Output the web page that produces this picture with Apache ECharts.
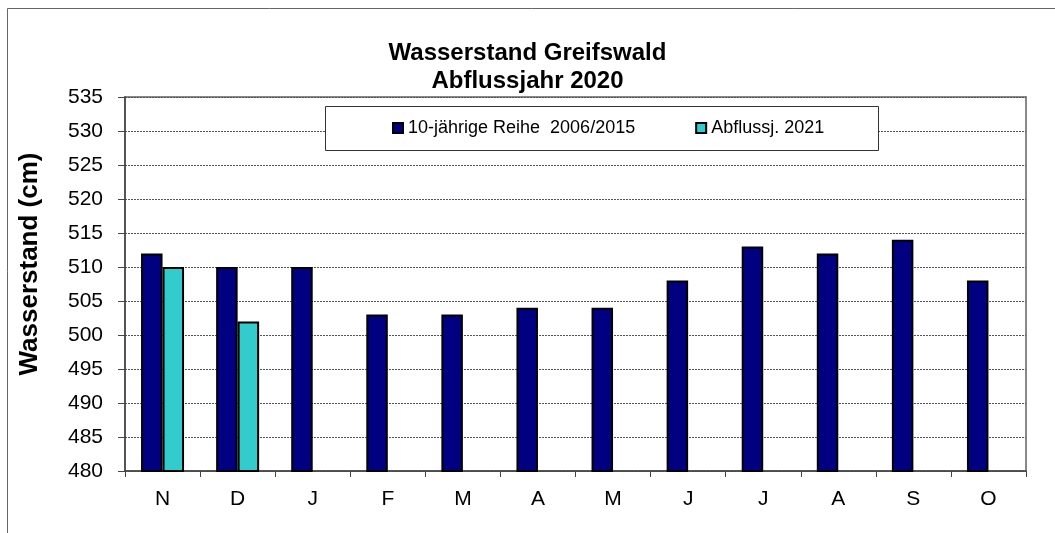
<!DOCTYPE html>
<html>
<head>
<meta charset="utf-8">
<script src="https://cdn.jsdelivr.net/npm/echarts@6/dist/echarts.min.js"></script>
<style>
  html, body { margin: 0; padding: 0; background: #fff; }
  #chart { width: 1055px; height: 533px; }
</style>
</head>
<body>
<div id="chart"></div>
<script>
// months of the Abflussjahr (Nov - Oct)
var months = ["N", "D", "J", "F", "M", "A", "M", "J", "J", "A", "S", "O"];
var reihe = [512, 510, 510, 503, 503, 504, 504, 508, 513, 512, 514, 508];
var abfluss2021 = [510, 502, null, null, null, null, null, null, null, null, null, null];

var font = "'Liberation Sans', Arial, sans-serif";
var chart = echarts.init(document.getElementById("chart"));

var option = {
  backgroundColor: "#fff",
  animation: false,
  title: {
    text: "Wasserstand Greifswald\nAbflussjahr 2020",
    left: "center",
    top: 34,
    textStyle: {
      fontFamily: font,
      fontSize: 24,
      fontWeight: "bold",
      color: "#000",
      lineHeight: 28
    }
  },
  graphic: [
    {
      type: "rect",
      z: -1,
      shape: { x: 7.5, y: 8.5, width: 1100, height: 600 },
      style: { fill: "none", stroke: "#666", lineWidth: 1 }
    },
    {
      type: "rect",
      z: 3,
      shape: { x: 325.5, y: 106.5, width: 553, height: 44 },
      style: { fill: "#fff", stroke: "#333", lineWidth: 1 }
    }
  ],
  legend: {
    z: 5,
    left: 392,
    top: 119,
    padding: 0,
    itemWidth: 10,
    itemHeight: 10,
    itemGap: 60,
    icon: "rect",
    textStyle: { fontFamily: font, fontSize: 18, color: "#000" },
    data: ["10-jährige Reihe  2006/2015", "Abflussj. 2021"]
  },
  grid: {
    left: 125,
    right: 29,
    top: 97,
    bottom: 62,
    show: true,
    borderColor: "#888",
    borderWidth: 2,
    backgroundColor: "#fff"
  },
  xAxis: {
    type: "category",
    data: months,
    axisLine: { lineStyle: { color: "#444", width: 1.5 } },
    axisTick: { show: true, length: 6, lineStyle: { color: "#444" } },
    axisLabel: { fontFamily: font, fontSize: 21, color: "#000", margin: 18 }
  },
  yAxis: {
    type: "value",
    min: 480,
    max: 535,
    interval: 5,
    name: "Wasserstand (cm)",
    nameLocation: "middle",
    nameGap: 82,
    nameTextStyle: {
      fontFamily: font,
      fontSize: 26,
      fontWeight: "bold",
      color: "#000",
      padding: [0, 0, 0, 40]
    },
    axisLine: { show: true, lineStyle: { color: "#444", width: 1.5 } },
    axisTick: { show: true, length: 7, lineStyle: { color: "#444" } },
    axisLabel: { fontFamily: font, fontSize: 21, color: "#000", margin: 22 },
    splitLine: { lineStyle: { color: "#555", type: [2, 1], width: 1 } }
  },
  series: [
    {
      name: "10-jährige Reihe  2006/2015",
      type: "bar",
      data: reihe,
      barWidth: 21.5,
      barGap: "0%",
      itemStyle: { color: "#000080", borderColor: "#000", borderWidth: 2 }
    },
    {
      name: "Abflussj. 2021",
      type: "bar",
      data: abfluss2021,
      barWidth: 21.5,
      itemStyle: { color: "#33CCCC", borderColor: "#000", borderWidth: 2 }
    }
  ]
};

chart.setOption(option);
</script>
</body>
</html>
